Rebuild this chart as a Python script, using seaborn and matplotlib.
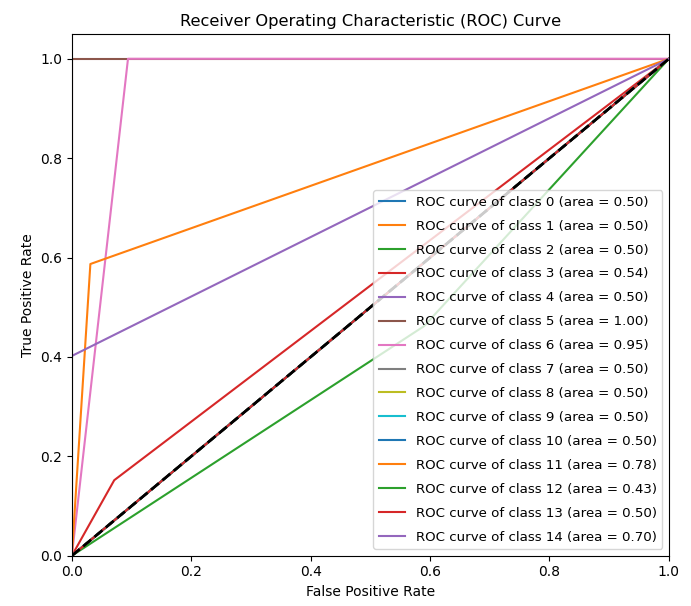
import pandas as pd
import matplotlib
matplotlib.use("Agg")
import matplotlib.pyplot as plt
import seaborn as sns

# ROC points per class
class_ids = list(range(15))

fpr_values = [
    [0.0, 1.0],
    [0.0, 1.0],
    [0.0, 1.0],
    [0.0, 0.071, 1.0],
    [0.0, 1.0],
    [0.0, 0.0, 1.0],
    [0.0, 0.094, 1.0],
    [0.0, 1.0],
    [0.0, 1.0],
    [0.0, 1.0],
    [0.0, 1.0],
    [0.0, 0.031, 1.0],
    [0.0, 0.59, 1.0],
    [0.0, 1.0],
    [0.0, 0.0, 1.0],
]

tpr_values = [
    [0.0, 1.0],
    [0.0, 1.0],
    [0.0, 1.0],
    [0.0, 0.152, 1.0],
    [0.0, 1.0],
    [0.0, 1.0, 1.0],
    [0.0, 1.0, 1.0],
    [0.0, 1.0],
    [0.0, 1.0],
    [0.0, 1.0],
    [0.0, 1.0],
    [0.0, 0.587, 1.0],
    [0.0, 0.462, 1.0],
    [0.0, 1.0],
    [0.0, 0.402, 1.0],
]

auc_values = [0.50, 0.50, 0.50, 0.54, 0.50, 1.00, 0.95, 0.50,
              0.50, 0.50, 0.50, 0.78, 0.43, 0.50, 0.70]

colors = sns.color_palette("tab10", 10)

fig, ax = plt.subplots(figsize=(6.91, 6.06), dpi=100)

for i in class_ids:
    df = pd.DataFrame({"fpr": fpr_values[i], "tpr": tpr_values[i]})
    sns.lineplot(
        data=df,
        x="fpr",
        y="tpr",
        estimator=None,
        sort=False,
        color=colors[i % 10],
        linewidth=1.5,
        label="ROC curve of class {0} (area = {1:0.2f})".format(i, auc_values[i]),
        ax=ax
    )

ax.plot([0, 1], [0, 1], "k--", lw=2)

ax.set_xlim([0.0, 1.0])
ax.set_ylim([0.0, 1.05])
ax.set_xlabel("False Positive Rate")
ax.set_ylabel("True Positive Rate")
ax.set_title("Receiver Operating Characteristic (ROC) Curve", fontsize=11.7)
ax.legend(loc="lower right", fontsize=9.6, labelspacing=0.82)

fig.subplots_adjust(left=0.104, right=0.968, top=0.944, bottom=0.083)
fig.savefig("out.png", dpi=100)
